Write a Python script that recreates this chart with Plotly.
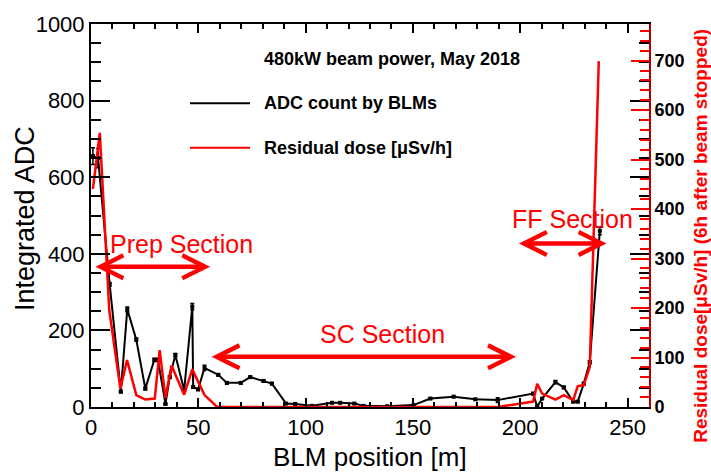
import plotly.graph_objects as go

# ---- data ----
adc_pos = [0.9, 3.3, 8.7, 13.9, 16.9, 21.1, 25.3, 29.5, 31.2, 34.7,
           36.7, 39.3, 43.4, 47.2, 47.6, 49.9, 52.9, 59.3, 63.3, 69.8,
           74.2, 80.4, 84.3, 90.9, 95.1, 102.9, 112.3, 116.1, 122.7, 127.0,
           138.0, 150.3, 158.1, 169.0, 179.1, 189.5, 206.0, 207.9, 210.2, 216.4,
           220.3, 224.7, 226.8, 229.6, 232.4, 237.1]
adc_val = [655, 650, 320, 40, 255, 176, 48, 123, 123, 8,
           78, 136, 44, 262, 52, 46, 102, 84, 63, 63,
           78, 68, 61, 9, 8, 3, 11, 11, 9, 3,
           2, 5, 22, 27, 20, 18, 35, 1, 22, 65,
           51, 14, 14, 61, 117, 460]
adc_err = [22, 25, 5, 3, 6, 4, 3, 4, 4, 2,
           3, 4, 3, 8, 3, 3, 7, 3, 3, 3,
           3, 3, 3, 2, 2, 1, 2, 2, 2, 1,
           1, 1, 2, 2, 2, 6, 3, 1, 2, 4,
           3, 2, 2, 3, 4, 10]

dose_pos = [0.9, 4.1, 8.5, 13.7, 16.8, 21.1, 25.3, 29.7, 32.0, 34.7,
            37.5, 43.4, 47.2, 52.9, 58.8, 63.3, 69.8, 74.2, 80.4, 84.3,
            90.9, 102.9, 116.1, 127.0, 150.3, 169.0, 189.5, 206.0, 207.9, 210.2,
            216.4, 220.3, 224.7, 226.8, 229.6, 232.4, 236.6]
dose_val = [441, 554, 196, 37, 95, 24, 15, 17, 115, 18,
            84, 25, 76, 24, 0, 0, 0, 0, 0, 0,
            0, 0, 0, 0, 0, 0, 0, 11, 47, 27,
            15, 24, 14, 42, 44, 81, 699]

x_ticks = [0, 50, 100, 150, 200, 250]
adc_ticks = [0, 200, 400, 600, 800, 1000]
dose_ticks = [0, 100, 200, 300, 400, 500, 600, 700]

sections = ["Prep Section", "SC Section", "FF Section"]
section_label_x = [42, 135.7, 224.4]
section_label_y = [426, 191, 490]
section_arrow_from = [1.4, 55.5, 198.7]
section_arrow_to = [55.5, 198.0, 240.2]
section_arrow_y = [366, 131, 427]

title_text = "480kW beam power, May 2018"
legend_names = ["ADC count by BLMs", "Residual dose [μSv/h]"]

FONT = "Liberation Sans, Arial, Helvetica, sans-serif"
RED = "#ff0000"

fig = go.Figure()
fig.add_trace(go.Scatter(
    x=adc_pos, y=adc_val, mode="lines+markers", name=legend_names[0],
    line=dict(color="black", width=2),
    marker=dict(symbol="square", size=4, color="black"),
    error_y=dict(type="data", array=adc_err, visible=True, color="black",
                 thickness=1.5, width=2),
    yaxis="y", showlegend=False))
fig.add_trace(go.Scatter(
    x=dose_pos, y=dose_val, mode="lines", name=legend_names[1],
    line=dict(color=RED, width=2.5),
    yaxis="y2", showlegend=False))

fig.update_layout(
    width=711, height=476,
    margin=dict(l=91, r=62, t=20, b=69),
    paper_bgcolor="white", plot_bgcolor="white",
    font=dict(family=FONT, color="black"),
    xaxis=dict(range=[0, 260], tickvals=x_ticks, ticks="inside", ticklen=9,
               tickwidth=1.5, tickcolor="black", showline=True, linecolor="black",
               linewidth=2, mirror="ticks", showgrid=False, zeroline=False,
               tickfont=dict(size=22, family=FONT, color="black"),
               minor=dict(dtick=10, tick0=0, ticks="inside", ticklen=5,
                          tickwidth=1.5, tickcolor="black", showgrid=False)),
    yaxis=dict(range=[0, 1000], tickvals=adc_ticks, ticks="inside", ticklen=19,
               tickwidth=1.5, tickcolor="black", showline=True, linecolor="black",
               linewidth=2, mirror="ticks", showgrid=False, zeroline=False,
               tickfont=dict(size=22, family=FONT, color="black"),
               minor=dict(dtick=50, tick0=0, ticks="inside", ticklen=10,
                          tickwidth=1.5, tickcolor="black", showgrid=False)),
    yaxis2=dict(range=[0, 774], tickvals=dose_ticks, overlaying="y", side="right",
                ticks="inside", ticklen=18, tickwidth=1.5, tickcolor=RED,
                showline=True, linecolor="#b00000", linewidth=2,
                showgrid=False, zeroline=False,
                tickfont=dict(size=18, family=FONT, color="black", weight="bold"),
                minor=dict(dtick=20, tick0=0, ticks="inside", ticklen=9,
                           tickwidth=1.5, tickcolor=RED, showgrid=False)),
)

annotations = []
# axis titles
annotations.append(dict(text="Integrated ADC", xref="paper", yref="paper",
                        x=(25 - 91) / 558, y=1 - (217 - 20) / 387, textangle=-90,
                        showarrow=False, xanchor="center", yanchor="middle",
                        font=dict(size=27, family=FONT, color="black")))
annotations.append(dict(text="BLM position [m]", xref="paper", yref="paper",
                        x=0.5, y=1 - (458 - 20) / 387, showarrow=False,
                        xanchor="center", yanchor="middle",
                        font=dict(size=26, family=FONT, color="black")))
annotations.append(dict(text="<b>Residual dose[μSv/h] (6h after beam stopped)</b>",
                        xref="paper", yref="paper",
                        x=(701 - 91) / 558, y=1 - (234 - 20) / 387, textangle=-90,
                        showarrow=False, xanchor="center", yanchor="middle",
                        font=dict(size=19, family=FONT, color=RED)))
# legend / title text
annotations.append(dict(text="<b>" + title_text + "</b>", xref="paper", yref="paper",
                        x=(262 - 91) / 558, y=1 - (55 - 20) / 387, showarrow=False,
                        xanchor="left", yanchor="middle",
                        font=dict(size=18, family=FONT, color="black")))
for name, ypix in zip(legend_names, [100, 145]):
    annotations.append(dict(text="<b>" + name + "</b>", xref="paper", yref="paper",
                            x=(262 - 91) / 558, y=1 - (ypix - 20) / 387,
                            showarrow=False, xanchor="left", yanchor="middle",
                            font=dict(size=18, family=FONT, color="black")))
# section labels and arrows
for lbl, lx, ly, a0, a1, ay in zip(sections, section_label_x, section_label_y,
                                   section_arrow_from, section_arrow_to, section_arrow_y):
    annotations.append(dict(text=lbl, x=lx, y=ly, xref="x", yref="y",
                            showarrow=False, xanchor="center", yanchor="middle",
                            font=dict(size=25, family=FONT, color=RED)))
    annotations.append(dict(text="", x=a1, y=ay, xref="x", yref="y",
                            ax=a0, ay=ay, axref="x", ayref="y",
                            showarrow=True, arrowside="end+start", arrowhead=5,
                            startarrowhead=5, arrowwidth=4.5, arrowsize=1.0,
                            startarrowsize=1.0, arrowcolor=RED))
fig.update_layout(annotations=annotations)

# legend line samples
shapes = []
for ypix, col in zip([100, 145], ["black", RED]):
    yp = 1 - (ypix - 20) / 387
    shapes.append(dict(type="line", xref="paper", yref="paper",
                       x0=(190 - 91) / 558, x1=(250 - 91) / 558, y0=yp, y1=yp,
                       line=dict(color=col, width=2)))
fig.update_layout(shapes=shapes)

fig.write_html("out.html", config={"displayModeBar": False},
               post_script="document.body.style.margin='0';document.body.style.overflow='hidden';")
